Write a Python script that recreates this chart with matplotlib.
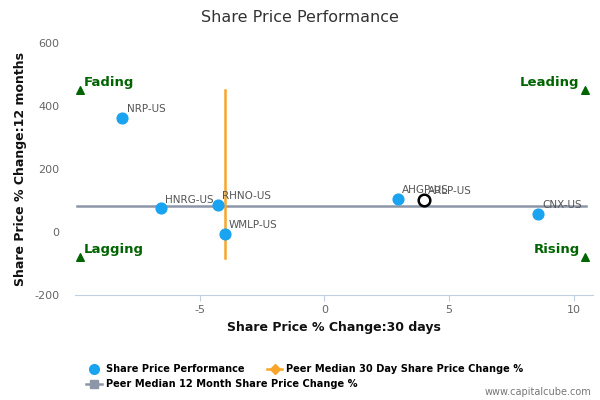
import matplotlib
matplotlib.use("Agg")
import matplotlib.pyplot as plt
from matplotlib.lines import Line2D

plt.rcParams["axes.unicode_minus"] = False

# peers: 30 day change (x) vs 12 month change (y)
tickers = ["NRP-US", "HNRG-US", "RHNO-US", "WMLP-US", "AHGP-US", "CNX-US"]
chg_30d = [-8.1, -6.55, -4.28, -4.0, 2.96, 8.56]
chg_12m = [362, 76, 86, -6, 105, 57]

# the company itself (hollow marker)
focus_ticker = "ARLP-US"
focus_30d = 4.0
focus_12m = 102

median_30d = -4.0
median_12m = 83
median_30d_span = [-83, 450]
median_12m_span = [-9.9, 10.5]

quadrants = ["Fading", "Leading", "Lagging", "Rising"]
quad_x = [-9.8, 10.45, -9.8, 10.45]
quad_y = [450, 450, -80, -80]

fig = plt.figure(figsize=(6, 4), dpi=100)
ax = fig.add_axes([0.125, 0.2625, 0.863, 0.63])

ax.plot(median_12m_span, [median_12m, median_12m], color="#8d96a8", lw=1.8, zorder=1)
ax.plot([median_30d, median_30d], median_30d_span, color="#f7a629", lw=1.8, zorder=2)

ax.scatter(chg_30d, chg_12m, s=60, color="#1aa3f0", zorder=3)
for t, x, y in zip(tickers, chg_30d, chg_12m):
    ax.annotate(t, (x, y), xytext=(3, 4), textcoords="offset points",
                fontsize=7.5, color="#555555")

ax.scatter([focus_30d], [focus_12m], s=70, facecolor="white", edgecolor="black",
           lw=1.8, zorder=4)
ax.annotate(focus_ticker, (focus_30d, focus_12m), xytext=(3, 4), textcoords="offset points",
            fontsize=7.5, color="#555555")

ax.scatter(quad_x, quad_y, marker="^", s=30, color="#006400", zorder=3)
for q, x, y in zip(quadrants, quad_x, quad_y):
    ha = "left" if x < 0 else "right"
    dx = 3 if x < 0 else -4
    ax.annotate(q, (x, y), xytext=(dx, 3), textcoords="offset points", ha=ha,
                fontsize=9.5, fontweight="bold", color="#006400")

ax.set_xlim(-10, 10.76)
ax.set_ylim(-200, 600)
ax.set_xticks([-5, 0, 5, 10])
ax.set_yticks([-200, 0, 200, 400, 600])
for s in ["top", "right", "left"]:
    ax.spines[s].set_visible(False)
ax.spines["bottom"].set_color("#c0d0e0")
ax.tick_params(axis="x", colors="#c0d0e0", labelcolor="#666666", labelsize=8, length=4)
ax.tick_params(axis="y", length=0, labelcolor="#666666", labelsize=8, pad=11)

ax.set_xlabel("Share Price % Change:30 days", fontsize=9, fontweight="bold", color="#111111")
ax.set_ylabel("Share Price % Change:12 months", fontsize=9, fontweight="bold", color="#111111")
ax.yaxis.set_label_coords(-0.092, 0.5)
fig.suptitle("Share Price Performance", x=0.5, y=0.975, fontsize=11.5, color="#333333")

h_perf = Line2D([], [], marker="o", ls="none", color="#1aa3f0", markersize=7)
h_30d = Line2D([], [], marker="D", color="#f7a629", lw=1.8, markersize=5)
h_12m = Line2D([], [], marker="s", color="#8d96a8", lw=1.8, markersize=6)
leg_kw = dict(loc="center left", frameon=False, handlelength=1.6, columnspacing=2.3,
              borderpad=0, borderaxespad=0, handletextpad=0.4,
              prop={"weight": "bold", "size": 7.1})
fig.legend([h_perf, h_30d], ["Share Price Performance",
                             "Peer Median 30 Day Share Price Change %"],
           ncol=2, bbox_to_anchor=(0.143, 0.077), **leg_kw)
fig.legend([h_12m], ["Peer Median 12 Month Share Price Change %"],
           bbox_to_anchor=(0.143, 0.039), **leg_kw)
fig.text(0.985, 0.008, "www.capitalcube.com", ha="right", va="bottom", fontsize=7, color="#777777")

fig.savefig("out.png", dpi=100)
